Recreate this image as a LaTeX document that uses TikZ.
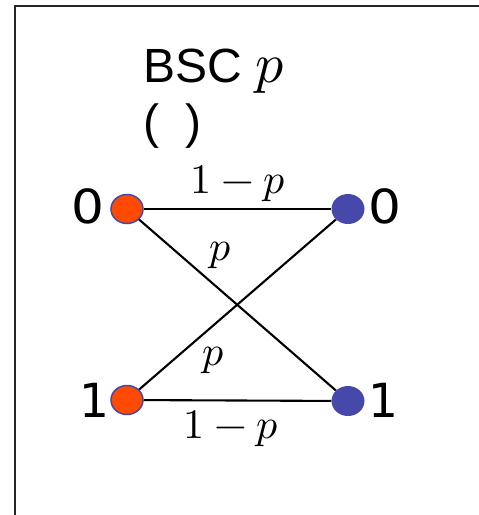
\documentclass[tikz,border=0pt]{standalone}
\usepackage{fontspec}
\usepackage{unicode-math}
\setmainfont{Liberation Sans}
\newfontfamily\digitfont{DejaVu Sans}
\setmathfont{Latin Modern Math}
\usetikzlibrary{shapes.geometric}
\definecolor{dotorange}{HTML}{FF4A00}
\definecolor{dotblue}{HTML}{4649AA}
\begin{document}
\begin{tikzpicture}[x=1pt,y=-1pt,
  indot/.style={ellipse,minimum width=32pt,minimum height=29pt,inner sep=0pt,fill=dotorange,draw=dotblue,line width=1.5pt},
  outdot/.style={ellipse,minimum width=33pt,minimum height=30pt,inner sep=0pt,fill=dotblue},
  digit/.style={inner sep=0pt,font=\digitfont\fontsize{47}{50}\selectfont},
  prob/.style={inner sep=0pt,anchor=base,font=\fontsize{42}{46}\selectfont},
  title/.style={inner sep=0pt,anchor=base west,font=\fontsize{48}{52}\selectfont},
  edge/.style={line width=2.1pt,black}]
\useasboundingbox (0,0) rectangle (479,515);
\draw[line width=2pt,black!85] (15,515) -- (15,6) -- (479,6);
\node[title] (ttl) at (143,82) {BSC {\fontsize{56}{60}\selectfont$p$}};
\node[title] (par) at (143,138) {(\hspace{0.55em})};
\node[indot] (l0) at (127,209) {};
\node[indot] (l1) at (127,400) {};
\node[outdot] (r0) at (348,209) {};
\node[outdot] (r1) at (348,401) {};
\draw[edge] (l0) -- (r0);
\draw[edge] (l1) -- (r1);
\draw[edge] (l0) -- (r1);
\draw[edge] (l1) -- (r0);
\node[digit] (dl0) at (88,206.5) {\scalebox{1.1}[1]{0}};
\node[digit] (dr0) at (385,206) {\scalebox{1.1}[1]{0}};
\node[digit] (dl1) at (94.5,400.5) {1};
\node[digit] (dr1) at (383,400) {1};
\node[prob] (pt) at (238,193) {$1-p$};
\node[prob] (px1) at (220,260) {$p$};
\node[prob] (px2) at (213,365) {$p$};
\node[prob] (pb) at (231,438) {$1-p$};
\end{tikzpicture}
\end{document}
